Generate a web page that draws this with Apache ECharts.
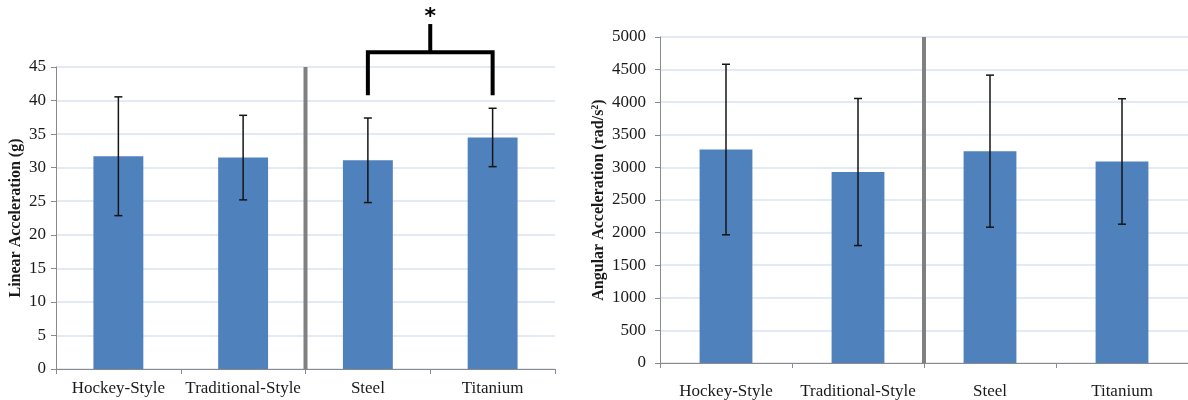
<!DOCTYPE html>
<html>
<head>
<meta charset="utf-8">
<title>Linear and Angular Acceleration by Stick Type</title>
<script src="https://cdn.jsdelivr.net/npm/echarts@6/dist/echarts.min.js"></script>
<style>
  html, body { margin: 0; padding: 0; background: #ffffff; }
  #chart { width: 1188px; height: 400px; }
</style>
</head>
<body>
<div id="chart"></div>
<script>
// Stick groups shown on both panels
const categories = ['Hockey-Style', 'Traditional-Style', 'Steel', 'Titanium'];

// Peak linear acceleration (g): mean and standard deviation
const linearMean = [31.7, 31.5, 31.1, 34.5];
const linearSD = [8.85, 6.3, 6.3, 4.35];

// Peak angular acceleration (rad/s^2): mean and standard deviation
const angularMean = [3274, 2929, 3249, 3091];
const angularSD = [1308, 1128, 1166, 962];

// Value axis ranges
const linearAxis = { min: 0, max: 45, interval: 5 };
const angularAxis = { min: 0, max: 5000, interval: 500 };

// Groups are split into two families after this category
const dividerAfter = 'Traditional-Style';

// Significance bracket between the two shaft materials (in g)
const sigFrom = 'Steel';
const sigTo = 'Titanium';
const sigLevels = { legs: 40.8, bar: 47.2, stem: 51.4 };

const FONT = 'Liberation Serif';
const BAR_COLOR = '#4f81bd';
const GRID_COLOR = '#dbe3f0';
const AXIS_COLOR = '#8a8a8a';
const TEXT_COLOR = '#1a1a1a';

function errorData(means, sds) {
  return means.map((m, i) => [i, m - sds[i], m + sds[i]]);
}

function renderError(params, api) {
  const x = api.value(0);
  const lo = api.coord([x, api.value(1)]);
  const hi = api.coord([x, api.value(2)]);
  const cap = 4;
  const style = { stroke: '#151515', lineWidth: 1.5 };
  return {
    type: 'group',
    children: [
      { type: 'line', shape: { x1: lo[0], y1: lo[1], x2: hi[0], y2: hi[1] }, style },
      { type: 'line', shape: { x1: hi[0] - cap, y1: hi[1], x2: hi[0] + cap, y2: hi[1] }, style },
      { type: 'line', shape: { x1: lo[0] - cap, y1: lo[1], x2: lo[0] + cap, y2: lo[1] }, style }
    ]
  };
}

function dividerSeries(xIdx, yMax) {
  const i = categories.indexOf(dividerAfter);
  return {
    type: 'custom',
    xAxisIndex: xIdx,
    yAxisIndex: xIdx,
    silent: true,
    z: 5,
    data: [[i, 0]],
    renderItem: function (params, api) {
      const a = api.coord([i, 0]);
      const b = api.coord([i + 1, yMax]);
      const x = (a[0] + b[0]) / 2;
      return {
        type: 'line',
        shape: { x1: x, y1: a[1], x2: x, y2: b[1] },
        style: { stroke: '#808080', lineWidth: 4 }
      };
    }
  };
}

const bracketSeries = {
  type: 'custom',
  xAxisIndex: 0,
  yAxisIndex: 0,
  silent: true,
  clip: false,
  z: 6,
  data: [[categories.indexOf(sigFrom), categories.indexOf(sigTo)]],
  renderItem: function (params, api) {
    const i0 = api.value(0), i1 = api.value(1);
    const l0 = api.coord([i0, sigLevels.legs]);
    const b0 = api.coord([i0, sigLevels.bar]);
    const l1 = api.coord([i1, sigLevels.legs]);
    const b1 = api.coord([i1, sigLevels.bar]);
    const mid = (b0[0] + b1[0]) / 2;
    const top = api.coord([i0, sigLevels.stem])[1];
    const style = { stroke: '#000000', lineWidth: 4, fill: null, lineJoin: 'miter' };
    return {
      type: 'group',
      children: [
        { type: 'polyline', shape: { points: [[l0[0], l0[1]], [b0[0], b0[1]], [b1[0], b1[1]], [l1[0], l1[1]]] }, style },
        { type: 'line', shape: { x1: mid, y1: b0[1], x2: mid, y2: top }, style },
        {
          type: 'text',
          x: mid, y: top + 4,
          style: {
            text: '*', fill: '#000000', fontFamily: 'DejaVu Sans',
            fontWeight: 'bold', fontSize: 22, align: 'center', verticalAlign: 'bottom'
          }
        }
      ]
    };
  }
};

function catAxis(gridIndex, labelMargin) {
  return {
    type: 'category',
    gridIndex,
    data: categories,
    axisLine: { lineStyle: { color: AXIS_COLOR, width: 1 } },
    axisTick: { show: true, length: 5, lineStyle: { color: AXIS_COLOR } },
    axisLabel: {
      interval: 0, color: TEXT_COLOR, fontFamily: FONT, fontSize: 17, margin: labelMargin
    },
    splitLine: { show: false }
  };
}

function valAxis(gridIndex, range, name, nameGap, labelMargin) {
  return {
    type: 'value',
    gridIndex,
    min: range.min,
    max: range.max,
    interval: range.interval,
    name,
    nameLocation: 'middle',
    nameGap,
    nameRotate: 90,
    nameTextStyle: {
      color: TEXT_COLOR,
      fontFamily: FONT,
      fontWeight: 'bold',
      fontSize: 16,
      rich: {
        b: { fontFamily: FONT, fontWeight: 'bold', fontSize: 16, color: TEXT_COLOR },
        sup: { fontFamily: FONT, fontWeight: 'bold', fontSize: 10, color: TEXT_COLOR, padding: [0, 0, 7, 0] }
      }
    },
    axisLine: { show: true, lineStyle: { color: AXIS_COLOR, width: 1 } },
    axisTick: { show: true, length: 5, lineStyle: { color: AXIS_COLOR } },
    axisLabel: {
      color: TEXT_COLOR, fontFamily: FONT, fontSize: 17, margin: labelMargin,
      formatter: (v) => String(v)
    },
    splitLine: { show: true, lineStyle: { color: GRID_COLOR, width: 1.5 } }
  };
}

const chart = echarts.init(document.getElementById('chart'), null, { renderer: 'canvas' });

chart.setOption({
  animation: false,
  backgroundColor: '#ffffff',
  textStyle: { fontFamily: FONT },
  grid: [
    { left: 56, top: 67, width: 499, height: 302 },
    { left: 660, top: 37, width: 536, height: 329 }
  ],
  xAxis: [catAxis(0, 11), catAxis(1, 20)],
  yAxis: [
    valAxis(0, linearAxis, 'Linear Acceleration (g)', 32, 10),
    valAxis(1, angularAxis, '{b|Angular Acceleration (rad/s}{sup|2}{b|)}', 53, 14)
  ],
  series: [
    {
      type: 'bar', xAxisIndex: 0, yAxisIndex: 0,
      data: linearMean, barWidth: '40%',
      itemStyle: { color: BAR_COLOR }, silent: true
    },
    {
      type: 'custom', xAxisIndex: 0, yAxisIndex: 0, z: 4, silent: true,
      data: errorData(linearMean, linearSD),
      encode: { x: 0, y: [1, 2] },
      renderItem: renderError
    },
    {
      type: 'bar', xAxisIndex: 1, yAxisIndex: 1,
      data: angularMean, barWidth: '40%',
      itemStyle: { color: BAR_COLOR }, silent: true
    },
    {
      type: 'custom', xAxisIndex: 1, yAxisIndex: 1, z: 4, silent: true,
      data: errorData(angularMean, angularSD),
      encode: { x: 0, y: [1, 2] },
      renderItem: renderError
    },
    dividerSeries(0, linearAxis.max),
    dividerSeries(1, angularAxis.max),
    bracketSeries
  ]
});
</script>
</body>
</html>
